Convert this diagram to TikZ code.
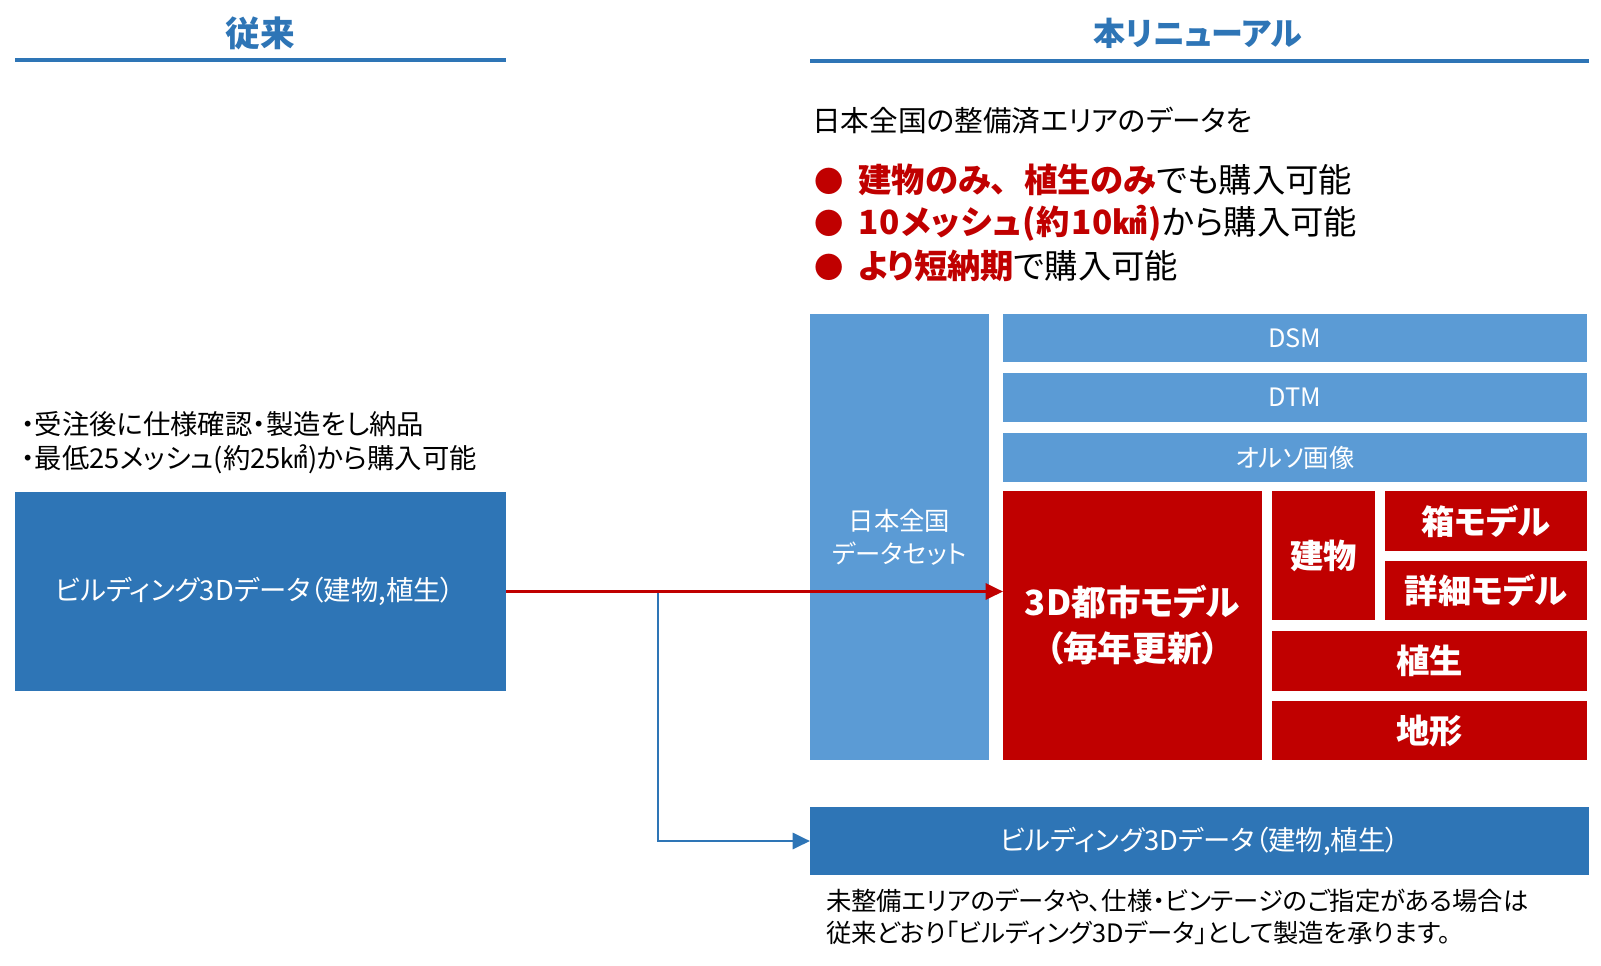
\documentclass[tikz,border=0pt]{standalone}
\usepackage{fontspec}
\setmainfont{Noto Sans CJK JP}[RawFeature=+palt]
\newfontfamily\fullw{Noto Sans CJK JP}
\usetikzlibrary{arrows.meta}
\definecolor{midblue}{HTML}{2E75B6}
\definecolor{lightblue}{HTML}{5B9BD5}
\definecolor{darkred}{HTML}{C00000}
\newcommand\pbox[7]{\node[#6, minimum width={(#4-#2)*0.75pt}, minimum height={(#5-#3)*0.75pt}] (#1) at ({(#2+#4)/2},{(#3+#5)/2}) {#7};}
\newcommand\bul{{\fontsize{22}{26}\selectfont ●}\hspace{0.45em}}
\tikzset{
  box/.style={inner sep=0pt, outer sep=0pt, align=center, text=white},
  bluebox/.style={box, fill=midblue, font=\fontsize{20.5}{24}\selectfont},
  lightbox/.style={box, fill=lightblue, font=\fontsize{19}{25}\selectfont},
  redbox/.style={box, fill=darkred, font=\bfseries\fontsize{25}{34}\selectfont},
  head/.style={text=midblue, font=\bfseries\fontsize{26}{30}\selectfont, inner sep=0pt},
  headline/.style={midblue, line width=2.5pt},
  plain/.style={anchor=west, inner sep=0pt, align=left},
}
\begin{document}
\begin{tikzpicture}[x=0.75pt,y=-0.75pt]
\useasboundingbox[fill=white] (0,0) rectangle (1601,965);
% headers
\node[head] (h1) at (260,33) {従来};
\node[head, font=\bfseries\fontsize{24}{30}\selectfont] (h2) at (1198,33) {本リニューアル};
\coordinate (l1a) at (15,60); \coordinate (l1b) at (506,60);
\coordinate (l2a) at (810,61); \coordinate (l2b) at (1589,61);
\draw[headline] (l1a) -- (l1b);
\draw[headline] (l2a) -- (l2b);
% right top texts
\node[plain, font=\fontsize{21.5}{26}\selectfont] (t0) at (812,121) {日本全国の整備済エリアのデータを};
\node[plain, font=\fontsize{25}{30}\selectfont] (b1) at (814,180) {\textcolor{darkred}{\bul\textbf{建物のみ{\fullw 、}植生のみ}}でも購入可能};
\node[plain, font=\fontsize{25}{30}\selectfont] (b2) at (814,223) {\textcolor{darkred}{\bul\textbf{\addfontfeatures{LetterSpace=3}10メッシュ(約10㎢)}}から購入可能};
\node[plain, font=\fontsize{25}{30}\selectfont] (b3) at (814,266) {\textcolor{darkred}{\bul\textbf{より短納期}}で購入可能};
% left texts
\node[plain, font=\fontsize{20.5}{24}\selectfont] (lt1) at (21,424) {・受注後に仕様確認・製造をし納品};
\node[plain, font=\fontsize{20.5}{24}\selectfont] (lt2) at (21,459) {・最低25メッシュ(約25㎢)から購入可能};
% left box
\pbox{old}{15}{492}{506}{691}{bluebox}{ビルディング3Dデータ（建物,植生）\hspace{0.4em}}
% right grid
\pbox{col}{810}{314}{989}{760}{lightbox}{日本全国\\データセット}
\pbox{dsm}{1003}{314}{1587}{362}{lightbox}{DSM}
\pbox{dtm}{1003}{373}{1587}{422}{lightbox}{DTM}
\pbox{ortho}{1003}{433}{1587}{482}{lightbox}{オルソ画像}
\pbox{city}{1003}{491}{1262}{760}{redbox, font=\bfseries\fontsize{26}{34.5}\selectfont}{3D都市モデル\\（毎年更新）}
\pbox{bldg}{1272}{491}{1375}{620}{redbox}{建物}
\pbox{boxm}{1385}{491}{1587}{551}{redbox}{箱モデル}
\pbox{detail}{1385}{561}{1587}{620}{redbox}{詳細モデル}
\pbox{veg}{1272}{631}{1587}{691}{redbox}{植生}
\pbox{terr}{1272}{701}{1587}{760}{redbox}{地形}
% bottom box
\pbox{new}{810}{807}{1589}{875}{bluebox}{ビルディング3Dデータ（建物,植生）}
\node[plain, font=\fontsize{19}{24}\selectfont] (bt) at (826,917) {未整備エリアのデータや、仕様・ビンテージのご指定がある場合は\\従来どおり「ビルディング3Dデータ」として製造を承ります。};
% connectors
\coordinate (branch) at (658,591.5);
\draw[midblue, line width=2.2pt, -{Triangle[length=13pt,width=12pt]}] (branch) |- (new.west);
\draw[darkred, line width=2.2pt, -{Triangle[length=13pt,width=12pt]}] (old.east) -- (old.east -| city.west);
\end{tikzpicture}
\end{document}
